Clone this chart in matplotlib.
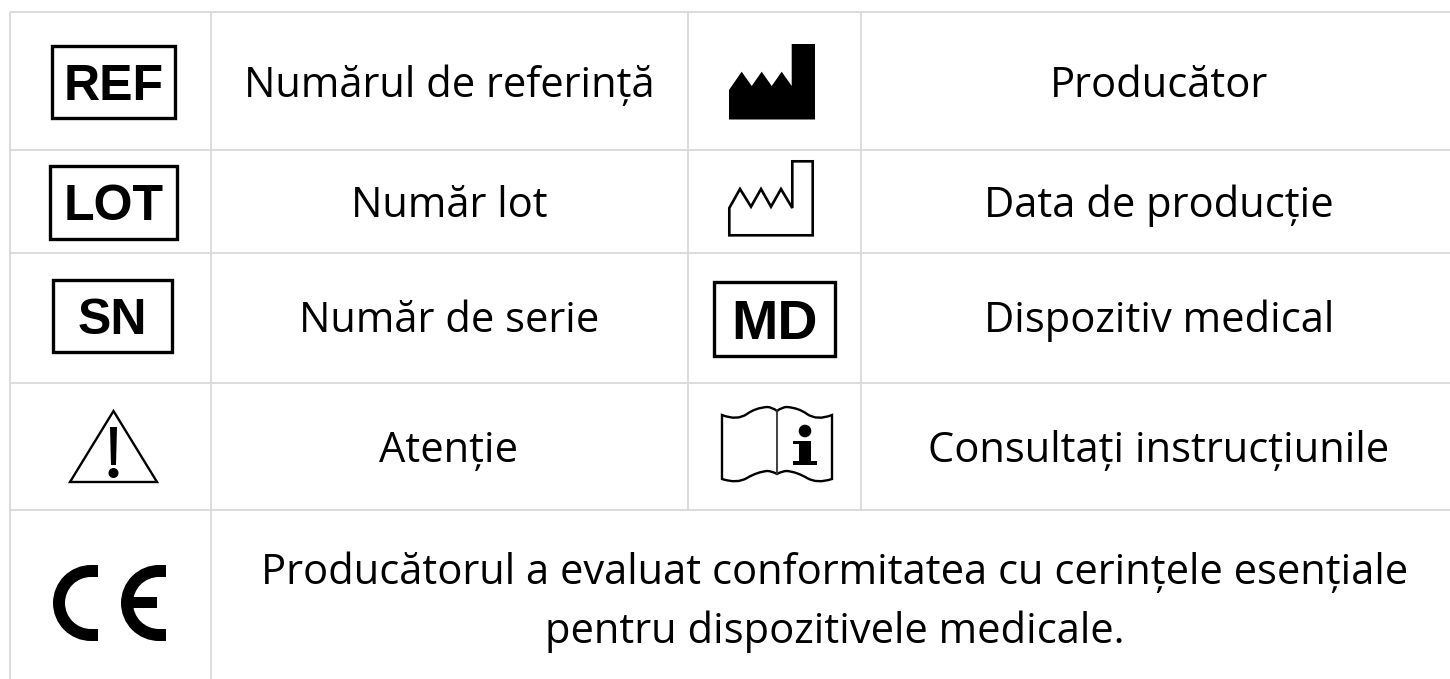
import matplotlib
matplotlib.use("Agg")
import matplotlib.pyplot as plt
from matplotlib.patches import Polygon, Rectangle, Wedge, PathPatch, Circle
from matplotlib.path import Path

W, H = 1450, 679
GRID = "#d9d9d9"

col_x = [10, 211, 688, 861, 1450]
row_y = [12, 150, 253, 383, 510, 679]

left_labels = ["Numărul de referință", "Număr lot", "Număr de serie", "Atenție"]
right_labels = ["Producător", "Data de producție", "Dispozitiv medical", "Consultați instrucțiunile"]
bottom_label = ["Producătorul a evaluat conformitatea cu cerințele esențiale",
                "pentru dispozitivele medicale."]
baselines = [97, 217, 332, 462]
bottom_baselines = [584, 643]
box_symbols = ["REF", "LOT", "SN", "MD"]
box_extents = [(52, 46, 175, 118), (50, 166, 177, 239), (53, 280, 172, 352), (714, 282, 835, 356)]
box_sizes = [36, 36, 36, 40]

plt.rcParams['font.family'] = ['Open Sans', 'DejaVu Sans']

fig = plt.figure(figsize=(W / 100, H / 100), dpi=100)
ax = fig.add_axes([0, 0, 1, 1])
ax.set_xlim(0, W)
ax.set_ylim(H, 0)
ax.axis("off")


def grid():
    for x in col_x[:2]:
        ax.plot([x, x], [row_y[0], row_y[5]], color=GRID, lw=1.3, solid_capstyle="butt")
    for x in col_x[2:4]:
        ax.plot([x, x], [row_y[0], row_y[4]], color=GRID, lw=1.3, solid_capstyle="butt")
    for y in row_y[:5]:
        ax.plot([col_x[0], col_x[4]], [y, y], color=GRID, lw=1.3, solid_capstyle="butt")


def boxed(text, ext, size):
    x0, y0, x1, y1 = ext
    ax.add_patch(Rectangle((x0, y0), x1 - x0, y1 - y0, fill=False, ec="black", lw=2.4))
    ax.text((x0 + x1) / 2, (y0 + y1) / 2, text, ha="center", va="center_baseline",
            fontsize=size, fontweight="bold", family="Liberation Sans")


def factory_filled():
    pts = [(729, 119.5), (729, 90), (741.7, 71.7), (751.7, 86), (761.7, 71.7), (771.7, 86),
           (781.7, 71.7), (791.7, 86), (791.7, 44), (815, 44), (815, 119.5)]
    ax.add_patch(Polygon(pts, closed=True, fc="black", ec="none"))


def factory_outline():
    pts = [(729.3, 235.3), (729.3, 208), (740, 189), (751, 206.7), (761, 189), (771, 206.7),
           (781, 189), (792.3, 208), (792.3, 161.3), (812.7, 161.3), (812.7, 235.3)]
    ax.add_patch(Polygon(pts, closed=True, fc="none", ec="black", lw=1.9, joinstyle="miter"))


def warning():
    ax.add_patch(Polygon([(70, 482), (113.5, 411), (157, 482)], closed=True,
                         fc="none", ec="black", lw=1.7))
    ax.add_patch(Polygon([(110, 427), (117, 427), (116, 465), (111, 465)], closed=True,
                         fc="black", ec="none"))
    ax.add_patch(Circle((113.5, 473), 5, fc="black", ec="none"))


def manual():
    verts = [(722, 415),
             (737, 421), (747, 414), (755, 408), (767, 407), (772, 407), (777, 411),
             (782, 407), (787, 407), (799, 408), (807, 414), (817, 421), (832, 415),
             (832, 479),
             (817, 484), (807, 478), (797, 472), (787, 471), (782, 471), (777, 474),
             (772, 471), (767, 471), (757, 472), (747, 478), (737, 484), (722, 479),
             (722, 415)]
    codes = [Path.MOVETO] + [Path.CURVE3] * 12 + [Path.LINETO] + [Path.CURVE3] * 12 + [Path.CLOSEPOLY]
    ax.add_patch(PathPatch(Path(verts, codes), fc="none", ec="black", lw=1.7))
    ax.plot([777, 777], [411, 474], color="#333333", lw=1.3)
    ax.add_patch(Circle((805, 431), 6.3, fc="black", ec="none"))
    ax.add_patch(Rectangle((799, 441), 12, 22, fc="black", ec="none"))
    ax.add_patch(Rectangle((793, 441), 8, 3, fc="black", ec="none"))
    ax.add_patch(Rectangle((793, 461), 24, 3.5, fc="black", ec="none"))


def ce_mark():
    r = 38
    t = 12
    for cx in [91, 159]:
        ax.add_patch(Wedge((cx, 603), r, 90, 270, width=t, fc="black", ec="none"))
        ax.add_patch(Rectangle((cx, 565), 7, t, fc="black", ec="none"))
        ax.add_patch(Rectangle((cx, 641 - t), 7, t, fc="black", ec="none"))
    ax.add_patch(Rectangle((128, 597), 29, 11, fc="black", ec="none"))


grid()
for text, ext, size in zip(box_symbols, box_extents, box_sizes):
    boxed(text, ext, size)
factory_filled()
factory_outline()
warning()
manual()
ce_mark()

for i in range(4):
    ax.text(449, baselines[i], left_labels[i], ha="center", va="baseline", fontsize=30)
    ax.text(1159, baselines[i], right_labels[i], ha="center", va="baseline", fontsize=30)
for text, y in zip(bottom_label, bottom_baselines):
    ax.text(835, y, text, ha="center", va="baseline", fontsize=30)

fig.savefig("out.png", dpi=100)
